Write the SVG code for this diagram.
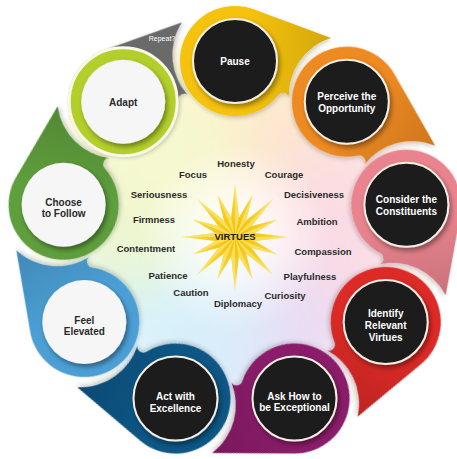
<svg xmlns="http://www.w3.org/2000/svg" width="457" height="459" viewBox="0 0 457 459">
<defs>
<style>
.vt{font-family:"Liberation Sans",Arial,sans-serif;font-size:9.5px;font-weight:bold;fill:#2b2b2b;text-anchor:middle}
.nl{font-family:"Liberation Sans",Arial,sans-serif;font-size:10px;font-weight:bold;text-anchor:middle}
.w{fill:#ffffff}
.d{fill:#2a2a2a}
.blk{fill:#1d1d1d;stroke:#f4efe4;stroke-width:2;filter:url(#sh)}
.wht{fill:#f6f6f6;filter:url(#sh)}
.tr{filter:url(#sh2)}
.shade{fill:url(#tailshade)}
.lt{fill:#fce46c}
</style>
<filter id="sh" x="-30%" y="-30%" width="160%" height="160%"><feDropShadow dx="2" dy="3" stdDeviation="2.5" flood-color="#000" flood-opacity="0.4"/></filter>
<filter id="sh2" x="-30%" y="-30%" width="160%" height="160%"><feDropShadow dx="1" dy="2" stdDeviation="2" flood-color="#000" flood-opacity="0.2"/></filter>
<filter id="bl" x="-50%" y="-50%" width="200%" height="200%"><feGaussianBlur stdDeviation="26"/></filter>
<clipPath id="bgclip"><circle cx="235" cy="235" r="205"/></clipPath>
<radialGradient id="glow" cx="0.5" cy="0.5" r="0.5"><stop offset="0" stop-color="#ffffff" stop-opacity="0.95"/><stop offset="1" stop-color="#ffffff" stop-opacity="0"/></radialGradient>
<radialGradient id="gold" cx="235" cy="237" r="54" gradientUnits="userSpaceOnUse"><stop offset="0" stop-color="#f2bf00"/><stop offset="0.6" stop-color="#f6d02e"/><stop offset="1" stop-color="#faea9a"/></radialGradient>
<linearGradient id="tailshade" x1="0.45" y1="0" x2="1" y2="0"><stop offset="0" stop-color="#000" stop-opacity="0"/><stop offset="1" stop-color="#000" stop-opacity="0.14"/></linearGradient>
<path id="tear" d="M254.2 9.45 L331 38 A60 60 0 0 0 288.9 99 A6 6 0 0 0 278.2 95 A55 55 0 1 1 254.2 9.45 Z"/>
</defs>

<g id="background" clip-path="url(#bgclip)">
<rect x="20" y="20" width="430" height="430" fill="#fdfbf1"/>
<g filter="url(#bl)">
<circle cx="235" cy="125" r="75" fill="#fff2c4"/>
<circle cx="305.7" cy="150.7" r="75" fill="#fde6cf"/>
<circle cx="343.3" cy="215.9" r="75" fill="#fcdde2"/>
<circle cx="330.3" cy="290" r="75" fill="#f9dbe6"/>
<circle cx="272.6" cy="338.4" r="75" fill="#e9dcf4"/>
<circle cx="197.4" cy="338.4" r="75" fill="#d9ecfa"/>
<circle cx="139.7" cy="290" r="75" fill="#d8f2fa"/>
<circle cx="126.7" cy="215.9" r="75" fill="#eaf6d2"/>
<circle cx="164.3" cy="150.7" r="75" fill="#f6f8cf"/>
</g>
<circle cx="235" cy="237" r="95" fill="url(#glow)"/>
</g>

<g id="star">
<polygon fill="url(#gold)" points="235,183 238.9,217.4 252.6,194.5 246.1,220.4 273.2,198.8 251.6,225.9 277.5,219.4 254.6,233.1 289,237 254.6,240.9 277.5,254.6 251.6,248.1 273.2,275.2 246.1,253.6 252.6,279.5 238.9,256.6 235,291 231.1,256.6 217.4,279.5 223.9,253.6 196.8,275.2 218.4,248.1 192.5,254.6 215.4,240.9 181,237 215.4,233.1 192.5,219.4 218.4,225.9 196.8,198.8 223.9,220.4 217.4,194.5 231.1,217.4"/>
<g class="lt" opacity="0.8">
<polygon points="235,237 235,183 238.9,217.4"/>
<polygon points="235,237 252.6,194.5 246.1,220.4"/>
<polygon points="235,237 273.2,198.8 251.6,225.9"/>
<polygon points="235,237 277.5,219.4 254.6,233.1"/>
<polygon points="235,237 289,237 254.6,240.9"/>
<polygon points="235,237 277.5,254.6 251.6,248.1"/>
<polygon points="235,237 273.2,275.2 246.1,253.6"/>
<polygon points="235,237 252.6,279.5 238.9,256.6"/>
<polygon points="235,237 235,291 231.1,256.6"/>
<polygon points="235,237 217.4,279.5 223.9,253.6"/>
<polygon points="235,237 196.8,275.2 218.4,248.1"/>
<polygon points="235,237 192.5,254.6 215.4,240.9"/>
<polygon points="235,237 181,237 215.4,233.1"/>
<polygon points="235,237 192.5,219.4 218.4,225.9"/>
<polygon points="235,237 196.8,198.8 223.9,220.4"/>
<polygon points="235,237 217.4,194.5 231.1,217.4"/>
</g>
<text x="235" y="239.5" class="vt" style="font-size:9.5px;fill:#1a1a1a;font-weight:900">VIRTUES</text>
</g>

<g id="virtues">
<text x="236" y="166.5" class="vt">Honesty</text>
<text x="193" y="177.5" class="vt">Focus</text>
<text x="284" y="177.5" class="vt">Courage</text>
<text x="159" y="197.5" class="vt">Seriousness</text>
<text x="314" y="197.5" class="vt">Decisiveness</text>
<text x="154" y="222.5" class="vt">Firmness</text>
<text x="317" y="224.5" class="vt">Ambition</text>
<text x="146" y="251.5" class="vt">Contentment</text>
<text x="323" y="254.5" class="vt">Compassion</text>
<text x="168" y="278.5" class="vt">Patience</text>
<text x="310" y="279.5" class="vt">Playfulness</text>
<text x="191" y="295.5" class="vt">Caution</text>
<text x="285" y="298.5" class="vt">Curiosity</text>
<text x="238" y="306.5" class="vt">Diplomacy</text>
</g>

<g id="connectors"></g>

<g id="node-pause">
<use href="#tear" class="tr" fill="#f5c20a"/>
<use href="#tear" class="shade"/>
<circle cx="235" cy="61" r="42" class="blk"/>
<text x="235" y="64.5" class="nl w">Pause</text>
</g>

<g id="node-perceive">
<g transform="rotate(40 235 235)"><use href="#tear" class="tr" fill="#ee8a22"/><use href="#tear" class="shade"/></g>
<circle cx="346.8" cy="101.7" r="42" class="blk"/>
<text x="346.8" y="100" class="nl w">Perceive the</text>
<text x="346.8" y="111.5" class="nl w">Opportunity</text>
</g>

<g id="node-consider">
<g transform="rotate(80 235 235)"><use href="#tear" class="tr" fill="#e9848e"/><use href="#tear" class="shade"/></g>
<circle cx="406.4" cy="204.8" r="42" class="blk"/>
<text x="406.4" y="203" class="nl w">Consider the</text>
<text x="406.4" y="214.5" class="nl w">Constituents</text>
</g>

<g id="node-identify">
<g transform="rotate(120 235 235)"><use href="#tear" class="tr" fill="#dc2a28"/><use href="#tear" class="shade"/></g>
<circle cx="385.7" cy="322" r="42" class="blk"/>
<text x="385.7" y="316.5" class="nl w">Identify</text>
<text x="385.7" y="328.5" class="nl w">Relevant</text>
<text x="385.7" y="340.5" class="nl w">Virtues</text>
</g>

<g id="node-ask">
<g transform="rotate(160 235 235)"><use href="#tear" class="tr" fill="#8b1d6b"/><use href="#tear" class="shade"/></g>
<circle cx="294.5" cy="398.5" r="42" class="blk"/>
<text x="294.5" y="399.5" class="nl w">Ask How to</text>
<text x="294.5" y="411" class="nl w">be Exceptional</text>
</g>

<g id="node-act">
<g transform="rotate(200 235 235)"><use href="#tear" class="tr" fill="#0d5685"/><use href="#tear" class="shade"/></g>
<circle cx="175.5" cy="398.5" r="42" class="blk"/>
<text x="175.5" y="399.5" class="nl w">Act with</text>
<text x="175.5" y="411.5" class="nl w">Excellence</text>
</g>

<g id="node-feel">
<g transform="rotate(240 235 235)"><use href="#tear" class="tr" fill="#4b9fd5"/><use href="#tear" class="shade"/></g>
<circle cx="84.3" cy="322" r="42" class="wht"/>
<text x="84.3" y="323.5" class="nl d">Feel</text>
<text x="84.3" y="335" class="nl d">Elevated</text>
</g>

<g id="node-choose">
<g transform="rotate(280 235 235)"><use href="#tear" class="tr" fill="#5f9e3c"/><use href="#tear" class="shade"/></g>
<circle cx="63.6" cy="204.8" r="42" class="wht"/>
<text x="63.6" y="205.5" class="nl d">Choose</text>
<text x="63.6" y="217" class="nl d">to Follow</text>
</g>

<g id="node-adapt">
<g transform="rotate(320 235 235)"><use href="#tear" class="tr" fill="#6b6b6b"/></g>
<text x="162" y="40.5" style="font-family:'Liberation Sans',Arial,sans-serif;font-size:7px;fill:#ffffff;text-anchor:middle">Repeat?</text>
<circle cx="123.2" cy="101.7" r="54" fill="#b3cf2b" stroke="#fbf8e6" stroke-width="3"/>
<circle cx="123.2" cy="101.7" r="42" class="wht"/>
<text x="123.2" y="105.5" class="nl d">Adapt</text>
</g>
</svg>
